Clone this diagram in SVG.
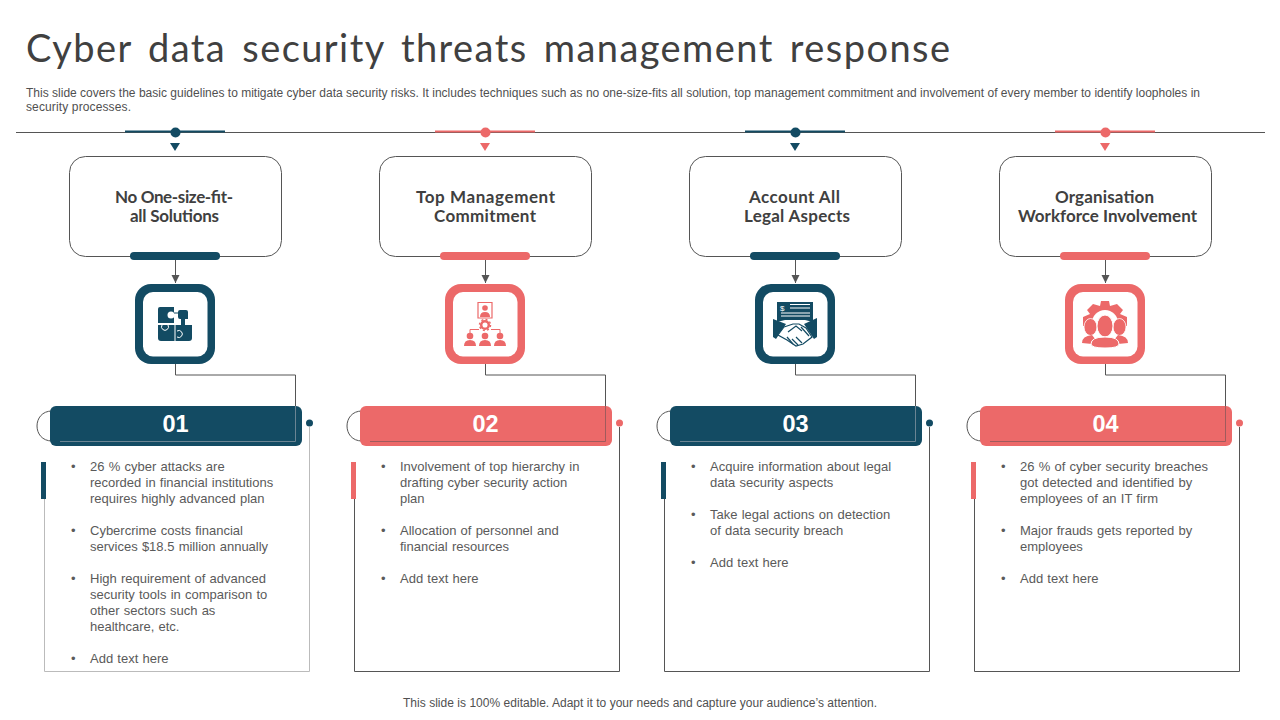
<svg xmlns="http://www.w3.org/2000/svg" width="1280" height="720" viewBox="0 0 1280 720">
<style>
text{font-family:"Liberation Sans",Arial,sans-serif}
.title{font-family:"Lato","Liberation Sans",sans-serif;font-size:38px;fill:#404040;word-spacing:5px}
.sub{font-size:12px;fill:#505050}
.foot{font-size:12px;fill:#505050}
.head{font-family:"Lato","Liberation Sans",sans-serif;font-weight:700;font-size:17px;fill:#404040;text-anchor:middle}
.num{font-weight:700;font-size:23.500px;fill:#fff;text-anchor:middle}
.b{font-size:13px;fill:#5a5a5a;word-spacing:.6px}
.ln{fill:none;stroke:#555;stroke-width:1}
.box{fill:#fff;stroke:#555;stroke-width:1}
.pn{fill:none;stroke:#555;stroke-width:1}
.navy{fill:#134b63}.red{fill:#ec6969}
.snavy{stroke:#134b63}.sred{stroke:#ec6969}
.hole{fill:#fff}
.seam{fill:none;stroke:#fff;stroke-width:1}
</style>
<defs>
<marker id="ah" markerWidth="10" markerHeight="10" refX="8" refY="4" orient="auto" markerUnits="userSpaceOnUse"><path d="M0 0L8 4L0 8Z" fill="#555"/></marker>
</defs>
<text class="title" x="26" y="62" textLength="924">Cyber data security threats management response</text>
<text class="sub" x="26" y="97" textLength="1174">This slide covers the basic guidelines to mitigate cyber data security risks. It includes techniques such as no one-size-fits all solution, top management commitment and involvement of every member to identify loopholes in</text>
<text class="sub" x="26" y="111" textLength="105">security processes.</text>
<g id="connectors">
<path class="ln" d="M16 132.500H1265"/>
<path class="ln" d="M175.500 259V283" marker-end="url(#ah)"/>
<path class="ln" d="M485.500 259V283" marker-end="url(#ah)"/>
<path class="ln" d="M795.500 259V283" marker-end="url(#ah)"/>
<path class="ln" d="M1105.500 259V283" marker-end="url(#ah)"/>
</g>
<g id="col1">
<path d="M125 131.500H225" class="snavy" stroke-width="2"/><circle cx="175.500" cy="132.500" r="5" class="navy"/><path d="M170 143H180L175 151Z" class="navy"/>
<rect class="box" x="69.500" y="156.500" width="212" height="100" rx="16"/>
<text class="head" x="174" y="203" textLength="118">No One-size-fit-</text><text class="head" x="174.500" y="222" textLength="89">all Solutions</text>
<rect x="130" y="252" width="90" height="8" rx="4" class="navy"/>
<rect x="135" y="284" width="80" height="80" rx="16" class="navy"/><rect x="143" y="292" width="64.500" height="64.500" rx="10" class="hole"/>
<path class="navy" d="M160 307H174V323H158V309Q158 307 160 307Z"/>
<circle cx="171" cy="315" r="3.500" fill="#fff"/>
<path class="navy" d="M180 310H186Q188 310 188 312V319H185V325H181V319H180Q178 319 178 317V312Q178 310 180 310ZM174 312.500H178V313.500H174Z"/>
<path class="navy" d="M158 325H192V338Q192 341 189 341H161Q158 341 158 338Z"/>
<path class="seam" d="M175 325V341M162 325a3.500 3.500 0 1 0 6 0M177 331a3.500 3.500 0 1 1 0 6"/>
<path class="ln" d="M175.500 364V375H295.500V442"/>
<path class="ln" d="M52 411C32 411 32 441 52 441"/>
<rect x="50" y="406" width="252" height="40" rx="6" class="navy"/>
<path d="M295.500 406V441.500H60" fill="none" stroke="#6a8493" stroke-width="1"/>
<text class="num" x="175.500" y="432">01</text>
<circle cx="309.500" cy="423" r="3.500" class="navy"/>
<path d="M309.500 427V671.500H44.500V462" fill="none" stroke="#bbb" stroke-width="1"/>
<rect x="41" y="462" width="5" height="37" fill="#134b63"/>
</g>
<g id="col1-text">
<text class="b" x="71" y="471">•</text><text class="b" x="90" y="471">26 % cyber attacks are</text>
<text class="b" x="90" y="487">recorded in financial institutions</text>
<text class="b" x="90" y="503">requires highly advanced plan</text>
<text class="b" x="71" y="535">•</text><text class="b" x="90" y="535">Cybercrime costs financial</text>
<text class="b" x="90" y="551">services $18.5 million annually</text>
<text class="b" x="71" y="583">•</text><text class="b" x="90" y="583">High requirement of advanced</text>
<text class="b" x="90" y="599">security tools in comparison to</text>
<text class="b" x="90" y="615">other sectors such as</text>
<text class="b" x="90" y="631">healthcare, etc.</text>
<text class="b" x="71" y="663">•</text><text class="b" x="90" y="663">Add text here</text>
</g>
<g id="col2">
<path d="M435 131.500H535" class="sred" stroke-width="2"/><circle cx="485.500" cy="132.500" r="5" class="red"/><path d="M480 143H490L485 151Z" class="red"/>
<rect class="box" x="379.500" y="156.500" width="212" height="100" rx="16"/>
<text class="head" x="485.500" y="203" textLength="139">Top Management</text><text class="head" x="485" y="222" textLength="102">Commitment</text>
<rect x="440" y="252" width="90" height="8" rx="4" class="red"/>
<rect x="445" y="284" width="80" height="80" rx="16" class="red"/><rect x="453" y="292" width="64.500" height="64.500" rx="10" class="hole"/>
<path d="M478 302.500H492V318H478Z" fill="none" stroke="#ec6969" stroke-width="1.200"/>
<circle cx="485" cy="308" r="2.800" class="red"/><path class="red" d="M480 317Q480 312 485 312Q490 312 490 317Z"/>
<circle cx="485" cy="325" r="3.800" fill="none" stroke="#ec6969" stroke-width="2.500"/>
<circle cx="485" cy="325" r="5.500" fill="none" stroke="#ec6969" stroke-width="1.500" stroke-dasharray="2 2.300"/>
<path d="M470 333V329.500H479M500 333V329.500H491" fill="none" stroke="#ec6969"/>
<g class="red"><circle cx="470" cy="336" r="3.300"/><path d="M464 346Q464 340 470 340Q476 340 476 346Z"/><circle cx="485" cy="336" r="3.300"/><path d="M479 346Q479 340 485 340Q491 340 491 346Z"/><circle cx="500" cy="336" r="3.300"/><path d="M494 346Q494 340 500 340Q506 340 506 346Z"/></g>
<path class="ln" d="M485.500 364V375H605.500V442"/>
<path class="ln" d="M362 411C342 411 342 441 362 441"/>
<rect x="360" y="406" width="252" height="40" rx="6" class="red"/>
<path d="M605.500 406V441.500H370" fill="none" stroke="#a05a5c" stroke-width="1"/>
<text class="num" x="485.500" y="432">02</text>
<circle cx="619.500" cy="423" r="3.500" class="red"/>
<path class="pn" d="M619.500 427V671.500H354.500V462"/>
<rect x="351" y="462" width="5" height="37" fill="#ec6969"/>
<text class="b" x="381" y="471">•</text><text class="b" x="400" y="471">Involvement of top hierarchy in</text>
<text class="b" x="400" y="487">drafting cyber security action</text>
<text class="b" x="400" y="503">plan</text>
<text class="b" x="381" y="535">•</text><text class="b" x="400" y="535">Allocation of personnel and</text>
<text class="b" x="400" y="551">financial resources</text>
<text class="b" x="381" y="583">•</text><text class="b" x="400" y="583">Add text here</text>
</g>
<g id="col3">
<path d="M745 131.500H845" class="snavy" stroke-width="2"/><circle cx="795.500" cy="132.500" r="5" class="navy"/><path d="M790 143H800L795 151Z" class="navy"/>
<rect class="box" x="689.500" y="156.500" width="212" height="100" rx="16"/>
<text class="head" x="794.500" y="203" textLength="91">Account All</text><text class="head" x="797" y="222" textLength="106">Legal Aspects</text>
<rect x="750" y="252" width="90" height="8" rx="4" class="navy"/>
<rect x="755" y="284" width="80" height="80" rx="16" class="navy"/><rect x="763" y="292" width="64.500" height="64.500" rx="10" class="hole"/>
<path class="navy" d="M777 302H813V322L805 320H785L777 322Z"/>
<text x="780" y="311" font-size="8" fill="#fff">$</text>
<path d="M790 304.500H810M790 308H810M781 313H810M781 316H810" stroke="#fff" stroke-width="1"/>
<path class="navy" d="M773 319L786 324L776 339L773 337ZM817 318L804 324L814 339L817 337Z"/>
<path d="M784 327L793 324H799L806 328L812 337L803 344L796 346L787 340L778 335Z" fill="#fff" stroke="#134b63" stroke-width="1.200"/>
<path d="M788 332L796 326L802 331M796 337L802 343M792 339L798 345M787 337L793 344M801 327L809 336" fill="none" stroke="#134b63" stroke-width="1.200"/>
<path class="ln" d="M795.500 364V375H915.500V442"/>
<path class="ln" d="M672 411C652 411 652 441 672 441"/>
<rect x="670" y="406" width="252" height="40" rx="6" class="navy"/>
<path d="M915.500 406V441.500H680" fill="none" stroke="#6a8493" stroke-width="1"/>
<text class="num" x="795.500" y="432">03</text>
<circle cx="929.500" cy="423" r="3.500" class="navy"/>
<path class="pn" d="M929.500 427V671.500H664.500V462"/>
<rect x="661" y="462" width="5" height="37" fill="#134b63"/>
<text class="b" x="691" y="471">•</text><text class="b" x="710" y="471">Acquire information about legal</text>
<text class="b" x="710" y="487">data security aspects</text>
<text class="b" x="691" y="519">•</text><text class="b" x="710" y="519">Take legal actions on detection</text>
<text class="b" x="710" y="535">of data security breach</text>
<text class="b" x="691" y="567">•</text><text class="b" x="710" y="567">Add text here</text>
</g>
<g id="col4">
<path d="M1055 131.500H1155" class="sred" stroke-width="2"/><circle cx="1105.500" cy="132.500" r="5" class="red"/><path d="M1100 143H1110L1105 151Z" class="red"/>
<rect class="box" x="999.500" y="156.500" width="212" height="100" rx="16"/>
<text class="head" x="1104.500" y="203" textLength="99">Organisation</text><text class="head" x="1107.500" y="222" textLength="179">Workforce Involvement</text>
<rect x="1060" y="252" width="90" height="8" rx="4" class="red"/>
<rect x="1065" y="284" width="80" height="80" rx="16" class="red"/><rect x="1073" y="292" width="64.500" height="64.500" rx="10" class="hole"/>
<path class="red" d="M1101 301H1109L1110 306L1117 304L1123 310L1120 314L1127 317V326H1083V317L1090 314L1087 310L1093 304L1100 306Z"/>
<circle cx="1105" cy="323" r="13" fill="#fff"/>
<ellipse cx="1090.500" cy="327" rx="6.500" ry="8.500" class="red" stroke="#fff" stroke-width=".8"/><ellipse cx="1119.500" cy="327" rx="6.500" ry="8.500" class="red" stroke="#fff" stroke-width=".8"/>
<path class="red" d="M1082 343Q1082 336 1092 335L1096 340L1092 344ZM1128 343Q1128 336 1118 335L1114 340L1118 344Z"/>
<ellipse cx="1105" cy="326" rx="8" ry="11" class="red" stroke="#fff"/>
<path class="red" d="M1091 344Q1091 337 1105 337Q1119 337 1119 344Q1119 348 1105 348Q1091 348 1091 344Z" stroke="#fff"/>
<path class="ln" d="M1105.500 364V375H1225.500V442"/>
<path class="ln" d="M982 411C962 411 962 441 982 441"/>
<rect x="980" y="406" width="252" height="40" rx="6" class="red"/>
<path d="M1225.500 406V441.500H990" fill="none" stroke="#a05a5c" stroke-width="1"/>
<text class="num" x="1105.500" y="432">04</text>
<circle cx="1239.500" cy="423" r="3.500" class="red"/>
<path class="pn" d="M1239.500 427V671.500H974.500V462"/>
<rect x="971" y="462" width="5" height="37" fill="#ec6969"/>
<text class="b" x="1001" y="471">•</text><text class="b" x="1020" y="471">26 % of cyber security breaches</text>
<text class="b" x="1020" y="487">got detected and identified by</text>
<text class="b" x="1020" y="503">employees of an IT firm</text>
<text class="b" x="1001" y="535">•</text><text class="b" x="1020" y="535">Major frauds gets reported by</text>
<text class="b" x="1020" y="551">employees</text>
<text class="b" x="1001" y="583">•</text><text class="b" x="1020" y="583">Add text here</text>
</g>
<text class="foot" x="403" y="707" textLength="474">This slide is 100% editable. Adapt it to your needs and capture your audience’s attention.</text>
</svg>
